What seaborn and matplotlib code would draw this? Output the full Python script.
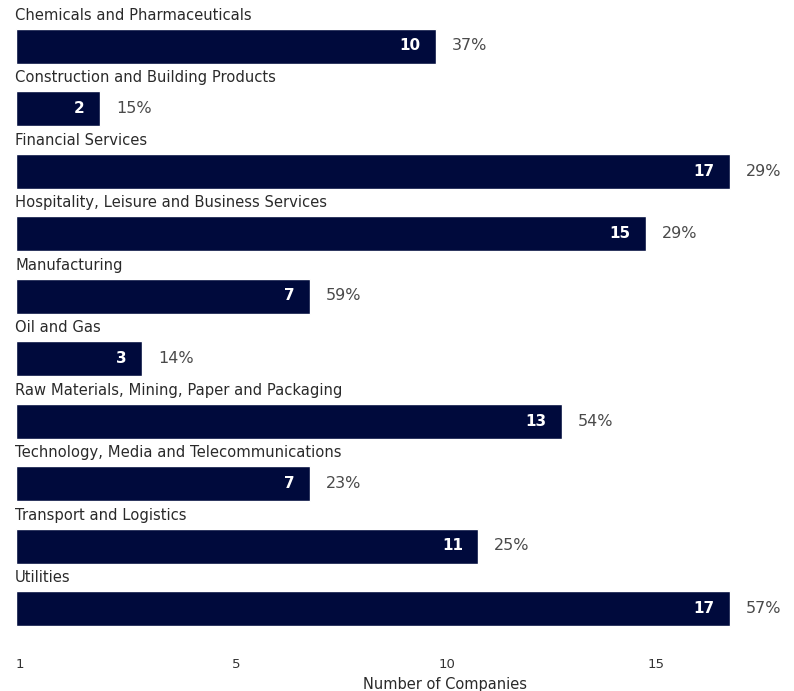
import matplotlib
matplotlib.use("Agg")
import matplotlib.pyplot as plt
import seaborn as sns
import pandas as pd

sectors = [
    "Chemicals and Pharmaceuticals",
    "Construction and Building Products",
    "Financial Services",
    "Hospitality, Leisure and Business Services",
    "Manufacturing",
    "Oil and Gas",
    "Raw Materials, Mining, Paper and Packaging",
    "Technology, Media and Telecommunications",
    "Transport and Logistics",
    "Utilities",
]
companies = [10, 2, 17, 15, 7, 3, 13, 7, 11, 17]
shares = [37, 15, 29, 29, 59, 14, 54, 23, 25, 57]
tick_labels = ["1", "5", "10", "15"]

NAVY = "#000a3c"

def main():
    df = pd.DataFrame({"Sector": sectors, "Companies": companies, "Share": shares})

    sns.set_theme(style="white")
    plt.rcParams["font.family"] = ["DejaVu Sans"]

    fig = plt.figure(figsize=(7.94, 6.91), dpi=100)
    W, H = 794, 691
    # axes spans x pixels 16..793, y pixels 0..640
    ax = fig.add_axes([16 / W, (H - 640) / H, (793 - 16) / W, 640 / H])

    sns.barplot(data=df, x="Companies", y="Sector", orient="h", color=NAVY,
                width=0.56, saturation=1, ax=ax)

    ax.set_xlim(0, 777 / 42)
    ax.set_ylim((640 - 46) / 62.5, -46 / 62.5)

    for i, row in df.iterrows():
        ax.text(-0.02, i - 0.49, row["Sector"], ha="left", va="center",
                fontsize=10.6, color="#2a2a2a", clip_on=False)
        ax.text(row["Companies"] - 0.36, i, str(row["Companies"]), ha="right",
                va="center", fontsize=11, color="white", fontweight="bold")
        ax.text(row["Companies"] + 0.38, i, f"{row['Share']}%", ha="left",
                va="center", fontsize=11.5, color="#4a4a4a")

    ax.set_yticks([])
    ax.set_ylabel("")
    ax.set_xticks([0.1, 5.24, 10.26, 15.24])
    ax.set_xticklabels(tick_labels)
    ax.tick_params(axis="x", length=0, pad=13, labelsize=9.5, labelcolor="#333333")
    ax.set_xlabel("Number of Companies", fontsize=10.5, color="#2a2a2a")
    ax.xaxis.set_label_coords((445 - 16) / 777, -0.058)
    for s in ax.spines.values():
        s.set_visible(False)

    fig.savefig("out.png", dpi=100)

if __name__ == "__main__":
    main()
